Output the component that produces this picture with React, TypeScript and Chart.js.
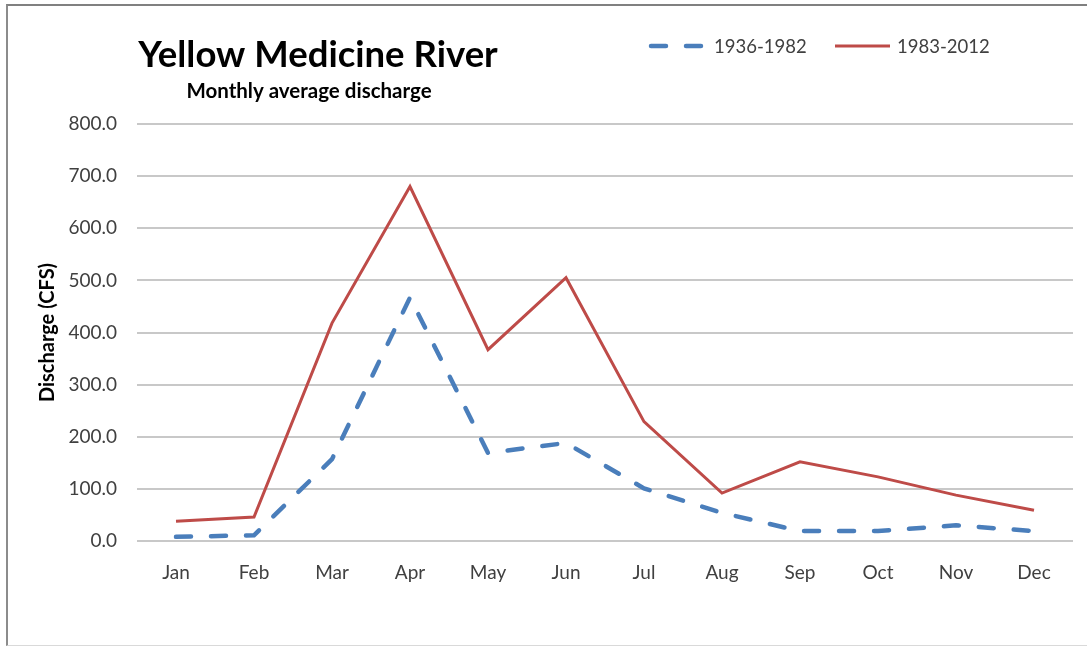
import React, { useEffect, useRef } from "react";
import { Chart, registerables } from "chart.js";

Chart.register(...registerables);

const months = ["Jan", "Feb", "Mar", "Apr", "May", "Jun", "Jul", "Aug", "Sep", "Oct", "Nov", "Dec"];
const series1936 = [8, 11, 157, 467, 169, 188, 101, 54, 19, 19, 30, 19];
const series1983 = [38, 46, 418, 680, 367, 505, 229, 92, 152, 123, 88, 59];
const seriesLabels = ["1936-1982", "1983-2012"];
const titleText = "Yellow Medicine River";
const subtitleText = "Monthly average discharge";
const yAxisTitle = "Discharge (CFS)";

const FONT = "Lato, 'Open Sans', sans-serif";

const headerPlugin = {
  id: "header",
  afterDraw(chart: any) {
    const ctx = chart.ctx;
    ctx.save();
    ctx.fillStyle = "#000000";
    ctx.textAlign = "center";
    ctx.textBaseline = "alphabetic";
    ctx.font = `bold 36.5px ${FONT}`;
    ctx.fillText(titleText, 310, 61);
    ctx.font = `bold 20.5px ${FONT}`;
    ctx.fillText(subtitleText, 301, 92);

    // legend
    const items = [
      { x0: 643, x1: 696, tx: 706 },
      { x0: 827, x1: 882, tx: 889 },
    ];
    const ly = 40;
    chart.data.datasets.forEach((ds: any, i: number) => {
      const it = items[i];
      ctx.beginPath();
      ctx.strokeStyle = ds.borderColor;
      ctx.lineWidth = ds.borderWidth;
      ctx.lineCap = ds.borderCapStyle || "butt";
      ctx.setLineDash(ds.borderDash || []);
      ctx.moveTo(it.x0, ly);
      ctx.lineTo(it.x1, ly);
      ctx.stroke();
      ctx.setLineDash([]);
      ctx.fillStyle = "#404040";
      ctx.font = `18.5px ${FONT}`;
      ctx.textAlign = "left";
      ctx.textBaseline = "middle";
      ctx.fillText(ds.label, it.tx, ly + 1);
    });
    ctx.restore();
  },
};

export default function App() {
  const ref = useRef<HTMLCanvasElement>(null);

  useEffect(() => {
    document.body.style.margin = "0";
    const chart = new Chart(ref.current!, {
      type: "line",
      data: {
        labels: months,
        datasets: [
          {
            label: seriesLabels[0],
            data: series1936,
            borderColor: "#4A7EBB",
            backgroundColor: "#4A7EBB",
            borderWidth: 4.5,
            borderDash: [15, 20],
            borderCapStyle: "round",
            pointRadius: 0,
            tension: 0,
          },
          {
            label: seriesLabels[1],
            data: series1983,
            borderColor: "#BE4B48",
            backgroundColor: "#BE4B48",
            borderWidth: 3,
            borderCapStyle: "butt",
            pointRadius: 0,
            tension: 0,
          },
        ],
      },
      options: {
        responsive: false,
        animation: false,
        layout: { padding: { top: 118, right: 14, left: 0, bottom: 0 } },
        plugins: {
          legend: { display: false },
          title: { display: false },
          tooltip: { enabled: false },
        },
        scales: {
          x: {
            offset: true,
            grid: { display: false, drawTicks: false },
            border: { display: false },
            ticks: {
              padding: 20,
              color: "#404040",
              font: { family: FONT, size: 19 },
            },
            afterFit: (scale: any) => {
              scale.height = 104;
            },
          },
          y: {
            min: 0,
            max: 800,
            ticks: {
              stepSize: 100,
              padding: 20,
              color: "#404040",
              font: { family: FONT, size: 19 },
              callback: (v: any) => Number(v).toFixed(1),
            },
            grid: { color: "#c8c8c8", lineWidth: 2, drawTicks: false },
            border: { display: false },
            title: {
              display: true,
              text: yAxisTitle,
              color: "#000000",
              font: { family: FONT, size: 20, weight: "bold" },
              padding: { top: 28, bottom: 0 },
            },
            afterFit: (scale: any) => {
              scale.width = 129;
            },
          },
        },
      },
      plugins: [headerPlugin],
    });
    return () => chart.destroy();
  }, []);

  return (
    <div
      style={{
        marginLeft: 6,
        marginTop: 4,
        width: 1079,
        height: 639,
        borderTop: "2px solid #808080",
        borderLeft: "2px solid #8c8c8c",
        borderBottom: "1px solid #d9d9d9",
        background: "#ffffff",
        overflow: "hidden",
      }}
    >
      <canvas ref={ref} width={1079} height={639} style={{ display: "block" }} />
    </div>
  );
}
